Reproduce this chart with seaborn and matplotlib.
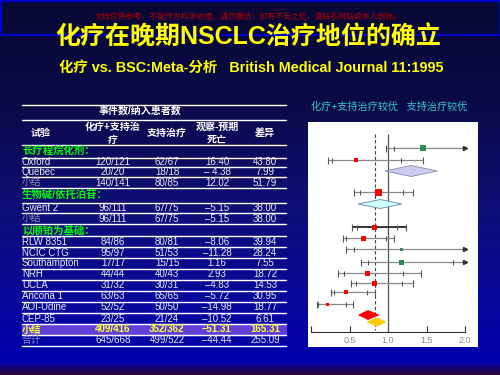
import matplotlib
matplotlib.use("Agg")
import matplotlib.pyplot as plt
from matplotlib.lines import Line2D
from matplotlib.patches import Rectangle
import numpy as np
import pandas as pd
import seaborn as sns

# table data
names = ['Oxford', 'Quebec', '小结', 'Gwent 2', '小结', 'RLW 8351', 'NCIC CTG',
         'Southampton', 'NRH', 'UCLA', 'Ancona 1', 'AOI-Udine', 'CEP-85', '小结', '合计']
chemo = ['120/121', '20/20', '140/141', '96/111', '96/111', '84/86', '95/97', '17/17',
         '44/44', '31/32', '63/63', '52/52', '23/25', '409/416', '645/668']
bsc = ['62/67', '18/18', '80/85', '67/75', '67/75', '80/81', '51/53', '15/15',
       '40/43', '30/31', '65/65', '50/50', '21/24', '352/362', '499/522']
o_minus_e = ['16.40', '– 4.38', '12.02', '–5.15', '–5.15', '–8.06', '–11.28', '1.16',
             '2.93', '–4.83', '–5.72', '–14.98', '–10.52', '–51.31', '–44.44']
variance = ['43.80', '7.99', '51.79', '38.00', '38.00', '39.94', '28.24', '7.55',
            '18.72', '14.53', '30.95', '18.77', '6.61', '165.31', '255.09']
groups = ['长疗程烷化剂：', '生物碱/依托泊苷：', '以顺铂为基础：']

# forest data (hazard ratio, 99% outer and 95% inner limits)
est = [1.45, 0.58, 0.88, 0.82, 0.68, 1.18, 1.18, 0.73, 0.83, 0.45, 0.21]
lo99 = [0.97, 0.22, 0.56, 0.53, 0.41, 0.46, 0.65, 0.35, 0.52, 0.26, 0.08]
hi99 = [2.5, 1.45, 1.33, 1.24, 1.08, 2.5, 2.5, 1.43, 1.32, 0.83, 0.55]
lo95 = [1.08, 0.27, 0.64, 0.60, 0.46, 0.56, 0.74, 0.43, 0.58, 0.30, 0.09]
hi95 = [2.2, 1.17, 1.20, 1.12, 0.97, 2.2, 1.84, 1.20, 1.18, 0.73, 0.45]
weight = [6, 4, 7, 5, 5, 3, 5, 5, 5, 4, 3]
summ_lo = [0.96, 0.61, 0.62, 0.73]
summ_mid = [1.30, 0.90, 0.74, 0.86]
summ_hi = [1.64, 1.18, 0.88, 0.97]
overall = 0.83

sns.set_theme(style="white")
plt.rcParams['font.family'] = ['Liberation Sans', 'Noto Sans CJK SC', 'DejaVu Sans']

W, H = 500, 375
fig = plt.figure(figsize=(5, 3.75), dpi=100)


def fx(x):
    return x / W


def fy(y):
    return 1 - y / H


# background gradient
bg = fig.add_axes([0, 0, 1, 1])
yy = np.arange(H)
anchors = [0, 100, 200, 300, 362, 369, 375]
rgb = np.array([[8, 8, 52], [10, 10, 72], [14, 14, 115], [8, 8, 155],
                [0, 0, 172], [30, 0, 100], [50, 10, 40]]) / 255
grad = np.stack([np.interp(yy, anchors, rgb[:, i]) for i in range(3)], axis=1)
bg.imshow(grad[:, None, :], aspect='auto', extent=[0, W, H, 0])
bg.set_xlim(0, W)
bg.set_ylim(H, 0)
bg.axis('off')

bg.add_patch(Rectangle((0.5, 0.5), 499, 34, fill=False, ec='#0000cc', lw=1.5))
fig.text(0.497, fy(17), '文档仅供参考，不能作为科学依据，请勿模仿；如有不当之处，请联系网站或本人删除。',
         color='#b00000', fontsize=5.7, ha='center', va='center')
fig.text(0.497, fy(37), '化疗在晚期NSCLC治疗地位的确立', color='#ffff00', fontsize=18,
         fontweight='bold', ha='center', va='center')
fig.text(0.503, fy(68), '化疗 vs. BSC:Meta-分析   British Medical Journal 11:1995',
         color='#ffff00', fontsize=10.4, fontweight='bold', ha='center', va='center')

# table
x0, x1 = 22, 286
cols = [113, 167, 217, 265]
for y in [105, 120, 145, 158, 167, 177, 188, 203, 213, 224, 236, 247, 258, 269,
          280, 291, 302, 313, 324, 335, 345.5]:
    fig.add_artist(Line2D([fx(x0), fx(x1)], [fy(y), fy(y)], color='white', lw=1))
fig.add_artist(Rectangle((fx(x0), fy(335)), fx(x1 - x0), 11 / H,
                         color='#6040d8', zorder=0.5))

hdr = dict(color='white', fontsize=7.2, fontweight='bold', ha='center', va='center')
fig.text(fx(140), fy(111), '事件数/纳入患者数', **hdr)
fig.text(fx(41), fy(133), '试验', **hdr)
fig.text(fx(113), fy(127), '化疗+支持治', **hdr)
fig.text(fx(113), fy(140), '疗', **hdr)
fig.text(fx(167), fy(133), '支持治疗', **hdr)
fig.text(fx(217), fy(127), '观察-预期', **hdr)
fig.text(fx(217), fy(140), '死亡', **hdr)
fig.text(fx(265), fy(133), '差异', **hdr)

for g, y in zip(groups, [151, 195, 230]):
    fig.text(fx(x0), fy(y), g, color='#00ff00', fontsize=7.5, fontweight='bold',
             ha='left', va='center')

row_y = [162, 172, 182.5, 208, 218.5, 242, 252.5, 263.5, 274, 285, 296, 307.5, 318.5, 329.5, 340]
for i, y in enumerate(row_y):
    name = names[i]
    col = '#e8e8f0'
    ncol = '#e8e8f0'
    weight_ = 'normal'
    if name in ('小结', '合计'):
        ncol = '#8f8fb8'
    if i == 13:
        col = ncol = '#ffff33'
        weight_ = 'bold'
    fig.text(fx(x0), fy(y), name, color=ncol, fontsize=7, ha='left', va='center',
             fontweight=weight_)
    for cx, v in zip(cols, [chemo[i], bsc[i], o_minus_e[i], variance[i]]):
        fig.text(fx(cx), fy(y), v, color=col, fontsize=7, ha='center', va='center',
                 fontweight=weight_)

# forest plot
fig.text(fx(389), fy(107), '化疗+支持治疗较优   支持治疗较优', color='#33cccc',
         fontsize=7.3, ha='center', va='center')

ax = fig.add_axes([fx(308), fy(347), fx(170), 225 / H])
ax.set_facecolor('white')
xmin, xmax = -3 / 77, 2 + 13 / 77
ax.set_xlim(xmin, xmax)
ax.set_ylim(347, 122)

ypos = [148, 160, 192, 227, 238, 249, 262, 273, 283, 292, 304]
summ_y = [171, 204, 315, 322]
summ_h = [5.5, 4.5, 4.5, 4]
summ_fc = ['#ccccee', '#ccffff', '#ff0000', '#ffcc00']
summ_ec = ['#8888aa', '#6688aa', '#ff0000', '#ffcc00']

ax.vlines(1.0, 134, 332, color='#555555', lw=0.9, zorder=1)
ax.vlines(overall, 134, 330, color='#444444', lw=0.8, linestyles=(0, (3, 2)), zorder=1)

for i, y in enumerate(ypos):
    lc = '#000000' if i == 3 else '#888888'
    lw = 1.1 if i == 3 else 0.9
    right = min(hi99[i], 2.0)
    ax.hlines(y, lo99[i], right, color=lc, lw=lw, zorder=2)
    ax.vlines(lo99[i], y - 3.5, y + 3.5, color='#555555', lw=0.8, zorder=2)
    if hi99[i] <= 2.0:
        ax.vlines(hi99[i], y - 3.5, y + 3.5, color='#555555', lw=0.8, zorder=2)
    else:
        ax.plot(2.0, y, marker='>', color='#333333', ms=3, zorder=3)
    for v in (lo95[i], hi95[i]):
        if v <= 2.0:
            ax.vlines(v, y - 2.5, y + 2.5, color='#555555', lw=0.8, zorder=2)

df = pd.DataFrame({'est': est, 'y': ypos, 'w': [(w * 0.72) ** 2 for w in weight]})
df['side'] = np.where(df['est'] > 1, 'bsc', 'chemo')
sns.scatterplot(data=df, x='est', y='y', hue='side', size='w',
                sizes=(df['w'].min(), df['w'].max()),
                palette={'bsc': '#2e8b57', 'chemo': '#ff0000'},
                marker='s', linewidth=0, legend=False, ax=ax, zorder=4)

for lo, mid, hi, y, h, fc, ec in zip(summ_lo, summ_mid, summ_hi, summ_y, summ_h, summ_fc, summ_ec):
    ax.fill([lo, mid, hi, mid], [y, y - h, y, y + h], facecolor=fc, edgecolor=ec,
            lw=0.6, zorder=4)

for s in ['top', 'left', 'right']:
    ax.spines[s].set_visible(False)
ax.spines['bottom'].set_position(('data', 332))
ax.spines['bottom'].set_bounds(0, 2)
ax.spines['bottom'].set_color('#333333')
ax.spines['bottom'].set_linewidth(0.8)
ax.set_xticks([0, 0.5, 1.0, 1.5, 2.0])
ax.set_xticklabels(['', '0.5', '1.0', '1.5', '2.0'])
ax.tick_params(axis='x', direction='in', length=4, width=0.8, color='#333333',
               labelsize=6.5, labelcolor='#888888', pad=3, bottom=True)
ax.set_yticks([])
ax.set_xlabel('')
ax.set_ylabel('')

fig.savefig('out.png', dpi=100)
